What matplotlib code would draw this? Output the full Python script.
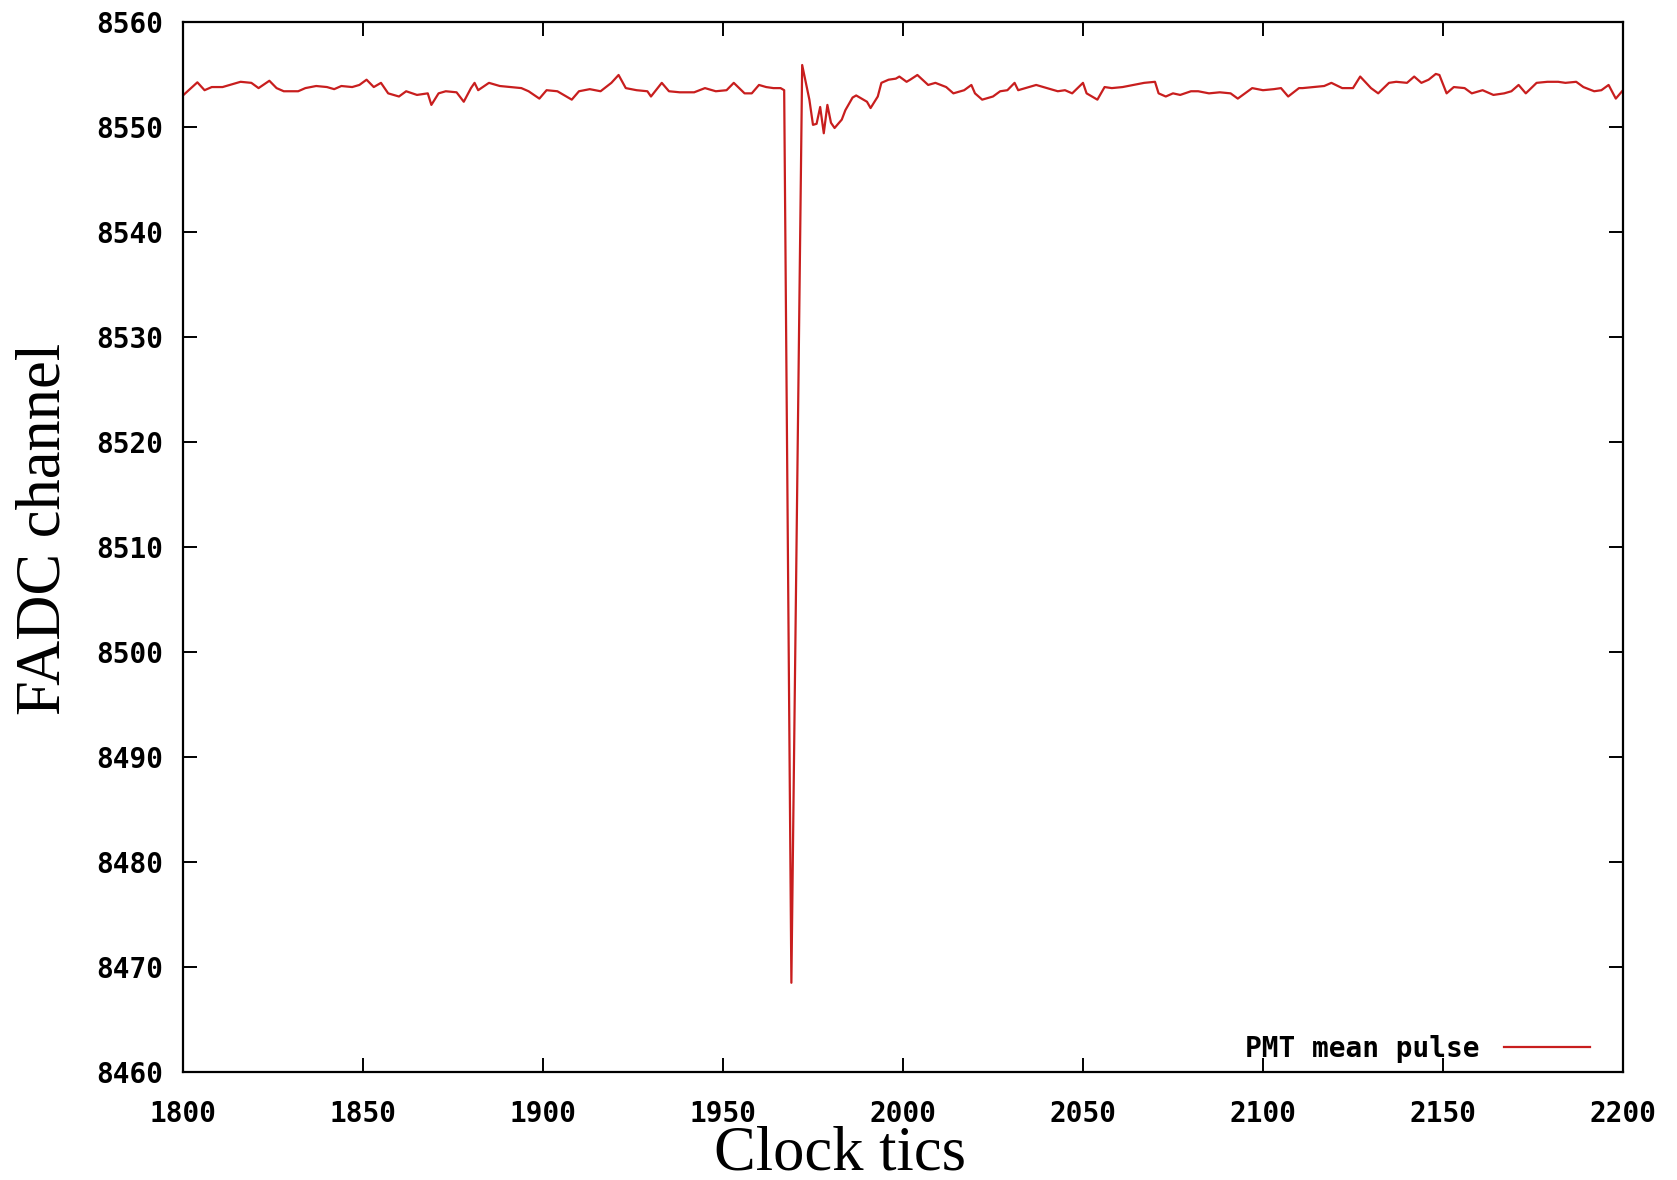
"""PMT mean pulse: FADC channel vs clock tics (gnuplot-style line plot)."""

import matplotlib

matplotlib.use("Agg")
import matplotlib.pyplot as plt

# values
tics = [
    1800, 1804, 1806, 1808, 1811, 1813, 1816, 1819, 1821, 1824, 1826, 1828,
    1832, 1834, 1837, 1840, 1842, 1844, 1847, 1849, 1851, 1853, 1855, 1857,
    1860, 1862, 1865, 1868, 1869, 1871, 1873, 1876, 1878, 1880, 1881, 1882,
    1885, 1888, 1891, 1894, 1896, 1899, 1901, 1904, 1908, 1910, 1913, 1916,
    1919, 1921, 1923, 1926, 1929, 1930, 1933, 1935, 1938, 1942, 1945, 1948,
    1951, 1953, 1956, 1958, 1960, 1962, 1964, 1966, 1967, 1969, 1972, 1974,
    1975, 1976, 1977, 1978, 1979, 1980, 1981, 1983, 1984, 1986, 1987, 1988,
    1990, 1991, 1993, 1994, 1996, 1998, 1999, 2001, 2002, 2004, 2007, 2009,
    2012, 2014, 2017, 2019, 2020, 2022, 2025, 2027, 2029, 2031, 2032, 2035,
    2037, 2040, 2043, 2045, 2047, 2050, 2051, 2054, 2056, 2058, 2061, 2064,
    2067, 2070, 2071, 2073, 2075, 2077, 2080, 2082, 2085, 2088, 2091, 2093,
    2095, 2097, 2100, 2103, 2105, 2107, 2110, 2111, 2114, 2117, 2119, 2122,
    2125, 2127, 2130, 2132, 2135, 2137, 2140, 2142, 2144, 2146, 2148, 2149,
    2151, 2153, 2156, 2158, 2161, 2164, 2167, 2169, 2171, 2173, 2176, 2179,
    2182, 2184, 2187, 2189, 2192, 2194, 2196, 2198, 2200,
]
channel = [
    8553.0, 8554.25, 8553.5, 8553.8, 8553.8, 8554.0, 8554.3, 8554.2, 8553.7, 8554.4, 8553.7, 8553.4,
    8553.4, 8553.7, 8553.9, 8553.8, 8553.6, 8553.9, 8553.8, 8554.0, 8554.5, 8553.8, 8554.2, 8553.2,
    8552.9, 8553.4, 8553.05, 8553.2, 8552.1, 8553.2, 8553.4, 8553.3, 8552.4, 8553.7, 8554.2, 8553.5,
    8554.2, 8553.9, 8553.8, 8553.7, 8553.4, 8552.7, 8553.5, 8553.4, 8552.6, 8553.4, 8553.6, 8553.4,
    8554.2, 8554.95, 8553.7, 8553.5, 8553.4, 8552.9, 8554.2, 8553.4, 8553.3, 8553.3, 8553.7, 8553.4,
    8553.5, 8554.2, 8553.2, 8553.2, 8554.0, 8553.8, 8553.7, 8553.7, 8553.5, 8468.5, 8555.9, 8552.6,
    8550.2, 8550.3, 8551.9, 8549.4, 8552.1, 8550.4, 8549.9, 8550.7, 8551.6, 8552.8, 8553.0, 8552.8,
    8552.4, 8551.8, 8552.9, 8554.2, 8554.5, 8554.6, 8554.8, 8554.3, 8554.5, 8554.95, 8554.0, 8554.2,
    8553.8, 8553.2, 8553.5, 8554.0, 8553.2, 8552.6, 8552.9, 8553.4, 8553.5, 8554.2, 8553.5, 8553.8,
    8554.0, 8553.7, 8553.4, 8553.5, 8553.2, 8554.2, 8553.2, 8552.6, 8553.8, 8553.7, 8553.8, 8554.0,
    8554.2, 8554.3, 8553.2, 8552.9, 8553.2, 8553.05, 8553.4, 8553.4, 8553.2, 8553.3, 8553.2, 8552.7,
    8553.2, 8553.7, 8553.5, 8553.6, 8553.7, 8552.9, 8553.7, 8553.7, 8553.8, 8553.9, 8554.2, 8553.7,
    8553.7, 8554.8, 8553.7, 8553.2, 8554.2, 8554.3, 8554.2, 8554.8, 8554.2, 8554.5, 8555.05, 8554.95,
    8553.2, 8553.8, 8553.7, 8553.2, 8553.5, 8553.05, 8553.2, 8553.4, 8554.0, 8553.2, 8554.2, 8554.3,
    8554.3, 8554.2, 8554.3, 8553.8, 8553.4, 8553.5, 8554.0, 8552.7, 8553.5,
]
x_ticks = [1800, 1850, 1900, 1950, 2000, 2050, 2100, 2150, 2200]
y_ticks = [8460, 8470, 8480, 8490, 8500, 8510, 8520, 8530, 8540, 8550, 8560]

TICK_FONT = {"family": "DejaVu Sans Mono", "weight": "bold", "size": 20}
LABEL_FONT = {"family": "Liberation Serif", "size": 45}

fig = plt.figure(figsize=(16.77, 11.8), dpi=100, facecolor="white")
ax = fig.add_axes([0.1091, 0.0915, 0.8587, 0.8899])

ax.plot(tics, channel, color="#c81e1e", linewidth=1.6, label="PMT mean pulse")

ax.set_xlim(1800, 2200)
ax.set_ylim(8460, 8560)
ax.set_xticks(x_ticks)
ax.set_yticks(y_ticks)
ax.set_xticklabels([str(t) for t in x_ticks], fontdict=TICK_FONT)
ax.set_yticklabels([str(t) for t in y_ticks], fontdict=TICK_FONT)
ax.tick_params(direction="in", length=10, width=1.4, top=True, right=True,
               color="black")
ax.tick_params(axis="x", pad=20)
ax.tick_params(axis="y", pad=14)
for spine in ax.spines.values():
    spine.set_linewidth(1.6)

# the label sits tight under the tick labels, as in the reference
ax.set_xlabel("Clock tics", fontdict=LABEL_FONT)
ax.set_ylabel("FADC channel", fontdict=LABEL_FONT)
ax.xaxis.set_label_coords(0.456, -0.051)
ax.yaxis.set_label_coords(-0.076, 0.517)

ax.legend(loc="lower right", bbox_to_anchor=(0.985, -0.002), frameon=False,
          markerfirst=False, handlelength=3.1, handletextpad=0.9,
          borderaxespad=0.0,
          prop={"family": "DejaVu Sans Mono", "weight": "bold", "size": 20})

fig.savefig("out.png", dpi=100, facecolor="white")
